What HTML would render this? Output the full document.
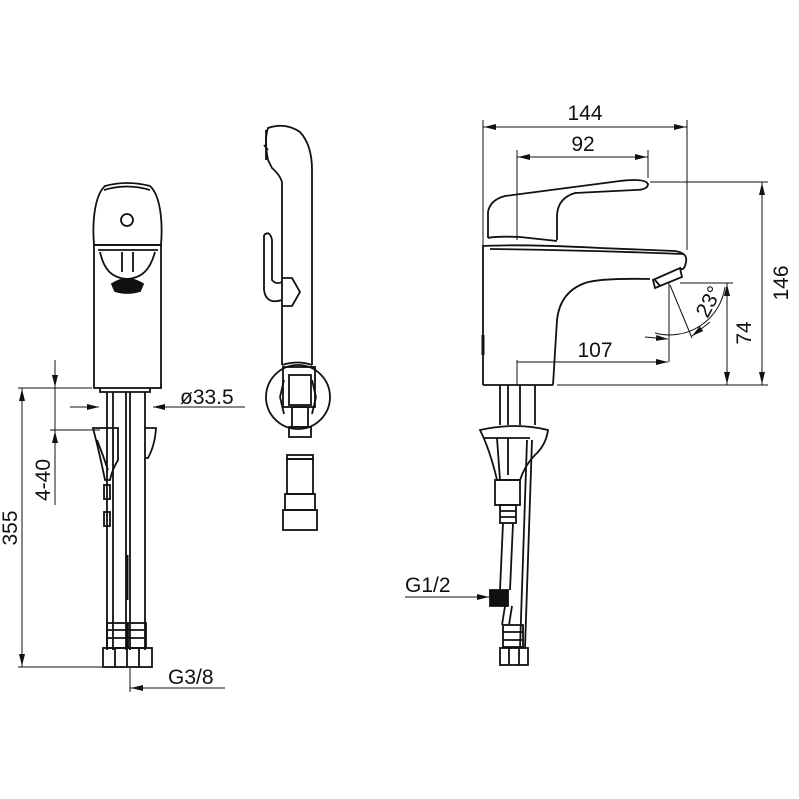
<!DOCTYPE html>
<html><head><meta charset="utf-8"><style>
html,body{margin:0;padding:0;background:#fff}
svg{display:block}
text{font-family:"Liberation Sans",sans-serif;fill:#111}
</style></head><body>
<svg width="799" height="799" viewBox="0 0 799 799" xmlns="http://www.w3.org/2000/svg">
<defs>
<marker id="a" viewBox="0 0 12 6" refX="12" refY="3" markerWidth="12" markerHeight="6" orient="auto" markerUnits="userSpaceOnUse"><path d="M0,0 L12,3 L0,6z" fill="#111"/></marker>
</defs>
<g fill="none" stroke="#111" stroke-width="1.8">
<!-- LEFT VIEW -->
<path d="M94,245 C92,220 95,195 105,186 Q127,180 150,186 C160,195 163,220 161,245 Z"/>
<path d="M104,190 Q127,183 150,190"/>
<circle cx="127" cy="220" r="6"/>
<rect x="94" y="245" width="67" height="143"/>
<path d="M98,250 L158,250 M100,252 C104,270 112,278 127,279 C142,278 150,270 155,252"/>
<path d="M122,252 V272 M133,252 V272"/>
<path d="M112,284 Q127,274 143,284 L140,291 Q127,295 115,291Z" fill="#111"/>
<path d="M100,388 V392 H150 V388"/>
<path d="M107,392 V650 M113,392 V650 M126,392 V650 M130,392 V650 M145,392 V650"/>
<path d="M93,428 L118,428 L118,460 Q112,470 110,480 L105,480 Q100,455 93,428Z"/>
<path d="M97,440 Q103,455 108,470"/>
<path d="M145,428 L156,428 Q155,445 148,458 L145,458"/>
<rect x="104" y="485" width="6" height="14"/><rect x="104" y="512" width="6" height="14"/>
<path d="M127,555 V600" stroke-width="3"/>
<rect x="107" y="623" width="20" height="25"/><rect x="128" y="623" width="18" height="25"/>
<path d="M107,630 H146 M107,638 H146"/>
<rect x="103" y="648" width="49" height="19"/>
<path d="M115,648 V667 M127,648 V667 M139,648 V667"/>
<!-- dims left -->
<g stroke-width="1">
<path d="M18,388 H92 M18,667 H102 M50,430 H100 M22,388 V667 M55,360 V505 M70,407 H99 M245,407 H153 M130,668 V692 M225,688 H130"/>
</g>
<g stroke-width="1">
<path d="M22,420 L22,389" marker-end="url(#a)"/><path d="M22,640 L22,666" marker-end="url(#a)"/>
<path d="M55,370 L55,387" marker-end="url(#a)"/><path d="M55,450 L55,431" marker-end="url(#a)"/>
<path d="M75,407 L99,407" marker-end="url(#a)"/><path d="M175,407 L153,407" marker-end="url(#a)"/>
<path d="M150,688 L131,688" marker-end="url(#a)"/>
</g>
<!-- MIDDLE VIEW -->
<path d="M282,365 V182 Q280,175 272,168 L268,160 Q264,140 268,128 Q285,122 300,132 Q312,145 312,170 V365"/>
<path d="M264,145 L268,150 M266,130 V160" />
<path d="M264,235 Q270,230 272,240 V280 Q276,285 282,282"/>
<path d="M264,235 V290 Q266,305 282,300"/>
<path d="M282,278 L292,278 L300,292 L292,306 L282,306"/>
<path d="M282,365 Q298,360 312,365"/>
<circle cx="298" cy="397" r="32"/>
<rect x="283" y="367" width="32" height="40"/><rect x="289" y="375" width="22" height="30"/>
<path d="M280,397 L284,380 M280,397 L284,414 M316,397 L312,380 M316,397 L312,414"/>
<rect x="292" y="407" width="16" height="20"/><rect x="289" y="427" width="22" height="10"/>
<rect x="287" y="455" width="26" height="4"/><rect x="287" y="459" width="26" height="35"/>
<rect x="285" y="494" width="30" height="16"/><rect x="283" y="510" width="34" height="20"/>
<!-- RIGHT VIEW -->
<path d="M488,238 L488,212 Q490,200 505,196 L620,181 Q645,178 648,184 Q648,190 635,190 L575,193 Q558,198 557,215 L557,240"/>
<path d="M488,238 Q495,236 520,237 L557,241"/>
<path d="M483,385 L483,246 Q520,244 600,248 L675,251 Q688,253 686,262 Q684,272 680,268"/>
<path d="M490,249 Q580,250 684,254"/>
<path d="M650,279 Q600,278 585,283 Q560,292 557,320 L553,385"/>
<path d="M653,280 L680,268 L682,277 L655,288 Z M655,280 L660,286"/>
<path d="M483,335 V355" stroke-width="3"/>
<path d="M483,385 H553"/>
<path d="M500,385 V425 M508,385 V425 M520,385 V425 M535,385 V425"/>
<path d="M480,430 Q515,422 548,430 Q546,445 535,455 Q525,465 520,480 L497,480 Q490,450 480,430Z"/>
<path d="M484,438 H530 M497,438 L500,480 M508,438 V475"/>
<rect x="495" y="480" width="25" height="25"/>
<rect x="500" y="505" width="16" height="18"/><path d="M500,511 H516 M500,517 H516"/>
<path d="M503,523 L500,590 M513,523 L510,590 M527,440 L520,648 M532,440 L525,648"/>
<path d="M490,590 L508,590 L508,606 L490,606Z" fill="#111"/>
<path d="M505,606 L502,625 M512,606 L509,625"/>
<rect x="503" y="625" width="20" height="22"/><path d="M503,632 H523 M503,640 H523"/>
<rect x="500" y="648" width="28" height="17"/><path d="M509,648 V665 M519,648 V665"/>
<!-- right dims -->
<g stroke-width="1">
<path d="M483,120 V246 M687,120 V250 M517,150 V240 M648,150 V178 M483,127 H687 M517,157 H648"/>
<path d="M650,182 H768 M557,385 H768 M680,283 H733 M762,182 V385 M727,283 V385"/>
<path d="M517,360 V385 M517,362 H667 M669,283 V362 M670,285 L692,338"/>
<path d="M655,333 A56,56 0 0 0 725,287"/>
</g>
<g stroke-width="1">
<path d="M510,127 L484,127" marker-end="url(#a)"/><path d="M660,127 L686,127" marker-end="url(#a)"/>
<path d="M540,157 L518,157" marker-end="url(#a)"/><path d="M625,157 L647,157" marker-end="url(#a)"/>
<path d="M762,210 L762,183" marker-end="url(#a)"/><path d="M762,360 L762,384" marker-end="url(#a)"/>
<path d="M727,310 L727,284" marker-end="url(#a)"/><path d="M727,360 L727,384" marker-end="url(#a)"/>
<path d="M640,362 L668,362" marker-end="url(#a)"/>
<path d="M645,337 L668,339" marker-end="url(#a)"/>
<path d="M710,322 L692,336" marker-end="url(#a)"/>
<path d="M405,597 H489" marker-end="url(#a)"/>
</g>
</g>
<text x="180" y="404" font-size="21">ø33.5</text>
<text x="168" y="684" font-size="21">G3/8</text>
<text transform="translate(17,528) rotate(-90)" font-size="21" text-anchor="middle">355</text>
<text transform="translate(50,480) rotate(-90)" font-size="21" text-anchor="middle">4-40</text>
<text x="585" y="120" font-size="21" text-anchor="middle">144</text>
<text x="583" y="151" font-size="21" text-anchor="middle">92</text>
<text x="595" y="357" font-size="21" text-anchor="middle">107</text>
<text transform="translate(788,283) rotate(-90)" font-size="21" text-anchor="middle">146</text>
<text transform="translate(751,333) rotate(-90)" font-size="21" text-anchor="middle">74</text>
<text transform="translate(715,305) rotate(-62)" font-size="21" text-anchor="middle">23°</text>
<text x="405" y="592" font-size="21">G1/2</text>
</svg>
</body></html>
